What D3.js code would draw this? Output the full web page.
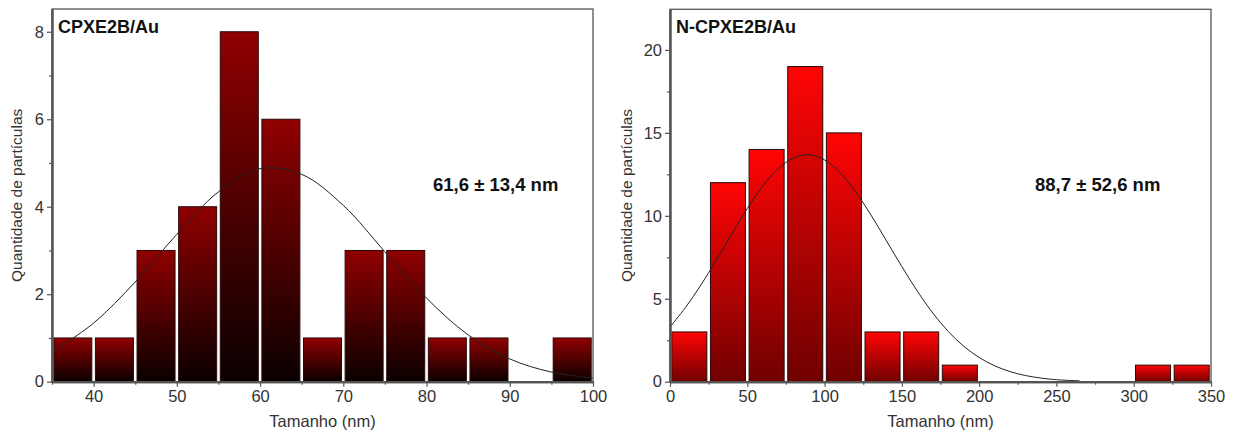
<!DOCTYPE html>
<meta charset="utf-8">
<head>
    <script src="https://d3js.org/d3.v7.min.js"></script>
    <style>
        body { margin: 0; background: white; }
        text { font-family: "Liberation Sans", Arial, sans-serif; }
    </style>
</head>
<body>
<div id="chart"></div>
<script>
    // ---- data ----
    // left histogram: CPXE2B/Au, bins of 5 nm
    var binsA = [35, 40, 45, 50, 55, 60, 65, 70, 75, 80, 85, 90, 95];
    var countsA = [1, 1, 3, 4, 8, 6, 1, 3, 3, 1, 1, 0, 1];
    var fitXA = [35, 40, 45, 50, 55, 60, 65, 70, 75, 80, 85, 90, 95, 100];
    var fitYA = [0.68, 1.34, 2.28, 3.37, 4.34, 4.87, 4.74, 4.03, 2.97, 1.91, 1.07, 0.52, 0.22, 0.08];
    var xTicksA = [40, 50, 60, 70, 80, 90, 100];
    var yTicksA = [0, 2, 4, 6, 8];

    // right histogram: N-CPXE2B/Au, bins of 25 nm
    var binsB = [0, 25, 50, 75, 100, 125, 150, 175, 200, 225, 250, 275, 300, 325];
    var countsB = [3, 12, 14, 19, 15, 3, 3, 1, 0, 0, 0, 0, 1, 1];
    var fitXB = [0, 10, 20, 30, 40, 50, 60, 70, 80, 90, 100, 110, 120, 130, 140, 150, 160, 170, 180, 190, 200, 210, 220, 230, 240, 250, 265];
    var fitYB = [3.30, 4.47, 5.83, 7.34, 8.91, 10.44, 11.79, 12.84, 13.49, 13.68, 13.37, 12.60, 11.46, 10.05, 8.50, 6.94, 5.46, 4.14, 3.03, 2.14, 1.46, 0.96, 0.61, 0.37, 0.22, 0.12, 0.05];
    var xTicksB = [0, 50, 100, 150, 200, 250, 300, 350];
    var yTicksB = [0, 5, 10, 15, 20];

    var width = 1236, height = 439;

    var svg = d3.select("#chart").append("svg")
        .attr("width", width)
        .attr("height", height);

    var defs = svg.append("defs");
    function gradient(id, top, bottom) {
        var g = defs.append("linearGradient")
            .attr("id", id)
            .attr("x1", 0).attr("y1", 0).attr("x2", 0).attr("y2", 1);
        g.append("stop").attr("offset", "0%").attr("stop-color", top);
        g.append("stop").attr("offset", "100%").attr("stop-color", bottom);
    }
    gradient("gradA", "#900000", "#0a0000");
    gradient("gradB", "#ff0505", "#700000");

    function panel(opt) {
        var x = d3.scaleLinear().domain(opt.xDomain).range([opt.left, opt.right]);
        var y = d3.scaleLinear().domain(opt.yDomain).range([opt.bottom, opt.top]);
        var g = svg.append("g");

        // bars
        g.selectAll("rect.bar")
            .data(opt.bins.map(function(b, i) { return { x0: b, x1: b + opt.binWidth, n: opt.counts[i] }; })
                .filter(function(d) { return d.n > 0; }))
            .enter().append("rect")
            .attr("class", "bar")
            .attr("x", function(d) { return x(d.x0) + 1.8; })
            .attr("width", function(d) { return x(d.x1) - x(d.x0) - 3.6; })
            .attr("y", function(d) { return y(d.n); })
            .attr("height", function(d) { return y(0) - y(d.n); })
            .attr("fill", "url(#" + opt.grad + ")")
            .attr("stroke", "#2a0a0a")
            .attr("stroke-width", 1);

        // gaussian fit
        var line = d3.line()
            .x(function(d) { return x(d[0]); })
            .y(function(d) { return y(d[1]); })
            .curve(d3.curveCatmullRom);
        g.append("path")
            .datum(opt.fitX.map(function(v, i) { return [v, opt.fitY[i]]; }))
            .attr("d", line)
            .attr("fill", "none")
            .attr("stroke", "#222")
            .attr("stroke-width", 1);

        // frame
        g.append("rect")
            .attr("x", opt.left).attr("y", opt.top)
            .attr("width", opt.right - opt.left).attr("height", opt.bottom - opt.top)
            .attr("fill", "none")
            .attr("stroke", "#555")
            .attr("stroke-width", 1.3);

        // x axis
        var xAxis = d3.axisBottom(x).tickValues(opt.xTicks).tickSize(5).tickSizeOuter(0).tickPadding(4);
        var xMinor = d3.axisBottom(x).tickValues(opt.xMinor).tickSize(3).tickSizeOuter(0).tickFormat("");
        var gx = g.append("g").attr("transform", "translate(0," + opt.bottom + ")").call(xAxis);
        var gxm = g.append("g").attr("transform", "translate(0," + opt.bottom + ")").call(xMinor);
        // y axis
        var yAxis = d3.axisLeft(y).tickValues(opt.yTicks).tickSize(5).tickSizeOuter(0).tickPadding(3);
        var yMinor = d3.axisLeft(y).tickValues(opt.yMinor).tickSize(3).tickSizeOuter(0).tickFormat("");
        var gy = g.append("g").attr("transform", "translate(" + opt.left + ",0)").call(yAxis);
        var gym = g.append("g").attr("transform", "translate(" + opt.left + ",0)").call(yMinor);

        [gx, gxm, gy, gym].forEach(function(a) {
            a.select(".domain").attr("stroke", "#555").attr("stroke-width", 2);
            a.selectAll(".tick line").attr("stroke", "#555").attr("stroke-width", 1.2);
            a.selectAll(".tick text")
                .attr("fill", "#333")
                .style("font-size", "16.5px")
                .style("font-family", "'Liberation Sans', Arial, sans-serif");
        });

        // labels
        g.append("text")
            .attr("x", (opt.left + opt.right) / 2).attr("y", 427)
            .attr("text-anchor", "middle")
            .attr("fill", "#333")
            .style("font-size", "16.5px")
            .text("Tamanho (nm)");
        g.append("text")
            .attr("transform", "translate(" + (opt.left - opt.yLabelOff) + "," + ((opt.top + opt.bottom) / 2) + ") rotate(-90)")
            .attr("text-anchor", "middle")
            .attr("fill", "#333")
            .style("font-size", "15.5px")
            .text("Quantidade de partículas");
        g.append("text")
            .attr("x", opt.left + 6).attr("y", 33)
            .attr("fill", "#111")
            .style("font-size", "18px")
            .style("font-weight", "bold")
            .text(opt.title);
        g.append("text")
            .attr("x", opt.noteX).attr("y", 191)
            .attr("fill", "#111")
            .style("font-size", "18.5px")
            .style("font-weight", "bold")
            .text(opt.note);
    }

    panel({
        left: 52, right: 593, top: 9, bottom: 381.7,
        xDomain: [35, 100], yDomain: [0, 8.52],
        bins: binsA, counts: countsA, binWidth: 5,
        fitX: fitXA, fitY: fitYA,
        xTicks: xTicksA, xMinor: [35, 45, 55, 65, 75, 85, 95],
        yTicks: yTicksA, yMinor: [1, 3, 5, 7],
        grad: "gradA", yLabelOff: 30,
        title: "CPXE2B/Au",
        note: "61,6 ± 13,4 nm", noteX: 433
    });

    panel({
        left: 670, right: 1211, top: 9.3, bottom: 381.7,
        xDomain: [0, 350], yDomain: [0, 22.45],
        bins: binsB, counts: countsB, binWidth: 25,
        fitX: fitXB, fitY: fitYB,
        xTicks: xTicksB, xMinor: [25, 75, 125, 175, 225, 275, 325],
        yTicks: yTicksB, yMinor: [2.5, 7.5, 12.5, 17.5],
        grad: "gradB", yLabelOff: 38,
        title: "N-CPXE2B/Au",
        note: "88,7 ± 52,6 nm", noteX: 1035
    });
</script>
</body>
</html>
